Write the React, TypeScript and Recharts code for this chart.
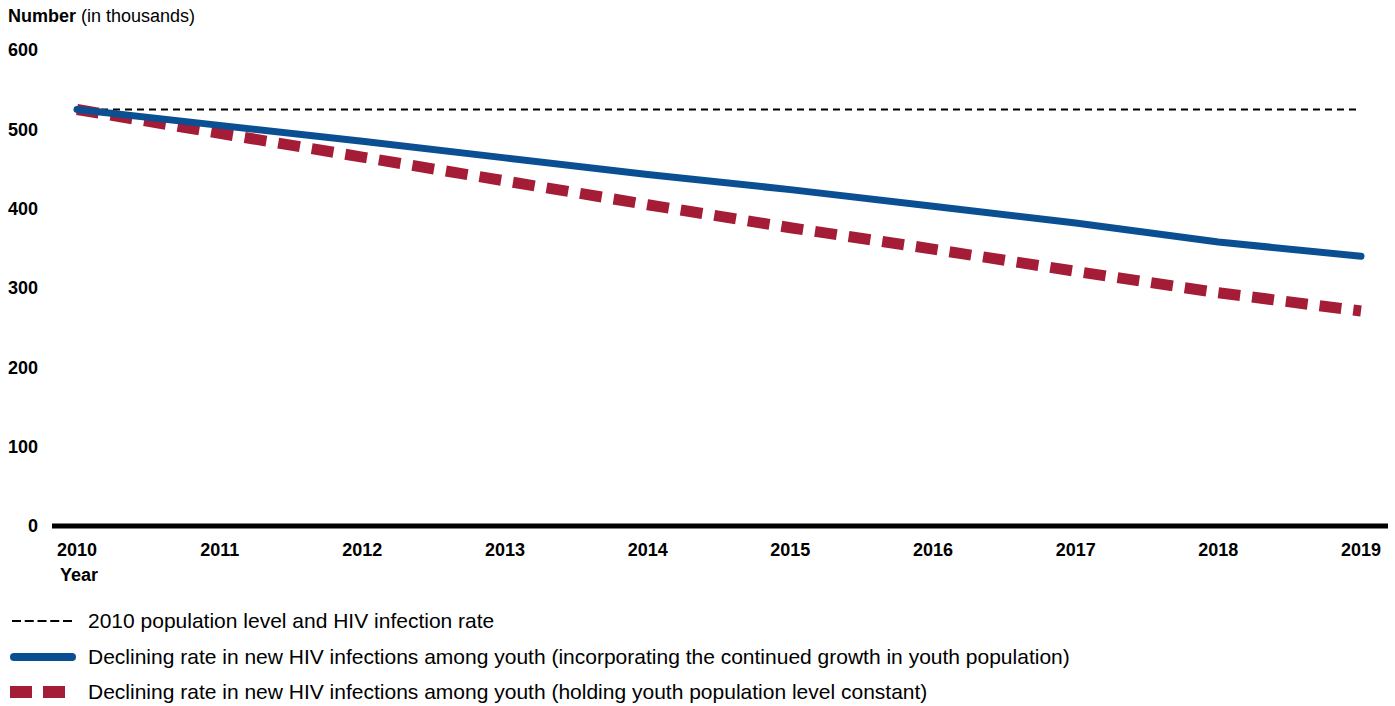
import { LineChart, Line, XAxis, YAxis } from "recharts";

const years = ["2010", "2011", "2012", "2013", "2014", "2015", "2016", "2017", "2018", "2019"];
const baseline = [525, 525, 525, 525, 525, 525, 525, 525, 525, 525];
const growthSeries = [525, 505, 485, 464, 443, 424, 403, 382, 358, 340];
const constantSeries = [525, 495, 465, 435, 405, 376, 349, 321, 294, 271];
const yTicks = [0, 100, 200, 300, 400, 500, 600];

const legendLabels = [
    "2010 population level and HIV infection rate",
    "Declining rate in new HIV infections among youth (incorporating the continued growth in youth population)",
    "Declining rate in new HIV infections among youth (holding youth population level constant)",
];

const data = years.map((year, i) => ({
    year,
    baseline: baseline[i],
    growth: growthSeries[i],
    constant: constantSeries[i],
}));

const font = "'Liberation Sans', Arial, sans-serif";

export default function App() {
    return (
        <div style={{ position: "absolute", left: 0, top: 0, width: 1395, height: 706, fontFamily: font, background: "#fff" }}>
            <div style={{ position: "absolute", left: 8, top: 6, fontSize: 18, color: "#000", whiteSpace: "nowrap" }}>
                <b>Number</b> (in thousands)
            </div>
            <LineChart width={1395} height={600} data={data} margin={{ top: 50, right: 7, left: 0, bottom: 0 }}>
                <YAxis
                    domain={[0, 600]}
                    ticks={yTicks}
                    width={52}
                    axisLine={false}
                    tickLine={false}
                    tickSize={6}
                    tickMargin={8}
                    tick={{ fill: "#000", fontSize: 18, fontWeight: "bold", fontFamily: font }}
                />
                <XAxis
                    dataKey="year"
                    height={74}
                    padding={{ left: 25, right: 27 }}
                    axisLine={{ stroke: "#000", strokeWidth: 5 }}
                    tickLine={false}
                    tickSize={6}
                    tickMargin={11}
                    tick={{ fill: "#000", fontSize: 18, fontWeight: "bold", fontFamily: font }}
                />
                <Line
                    dataKey="baseline"
                    stroke="#000"
                    strokeWidth={2}
                    strokeDasharray="7 5"
                    dot={false}
                    isAnimationActive={false}
                />
                <Line
                    dataKey="constant"
                    stroke="#a51c36"
                    strokeWidth={11}
                    strokeDasharray="22 12"
                    dot={false}
                    isAnimationActive={false}
                />
                <Line
                    dataKey="growth"
                    stroke="#0b4f93"
                    strokeWidth={7}
                    strokeLinecap="round"
                    dot={false}
                    isAnimationActive={false}
                />
            </LineChart>
            <div style={{ position: "absolute", left: 60, top: 565, fontSize: 18, fontWeight: "bold" }}>Year</div>
            {legendLabels.map((label, i) => (
                <div
                    key={label}
                    style={{ position: "absolute", left: 10, top: 608 + i * 35.5, height: 26, display: "flex", alignItems: "center", whiteSpace: "nowrap" }}
                >
                    <svg width={78} height={26}>
                        {i === 0 && <line x1={2} y1={13} x2={62} y2={13} stroke="#000" strokeWidth={2} strokeDasharray="9 3.75" />}
                        {i === 1 && <line x1={4} y1={13} x2={62} y2={13} stroke="#0b4f93" strokeWidth={8} strokeLinecap="round" />}
                        {i === 2 && <line x1={0} y1={13} x2={56} y2={13} stroke="#a51c36" strokeWidth={12} strokeDasharray="22 11" />}
                    </svg>
                    <span style={{ fontSize: 21, color: "#000" }}>{label}</span>
                </div>
            ))}
        </div>
    );
}
